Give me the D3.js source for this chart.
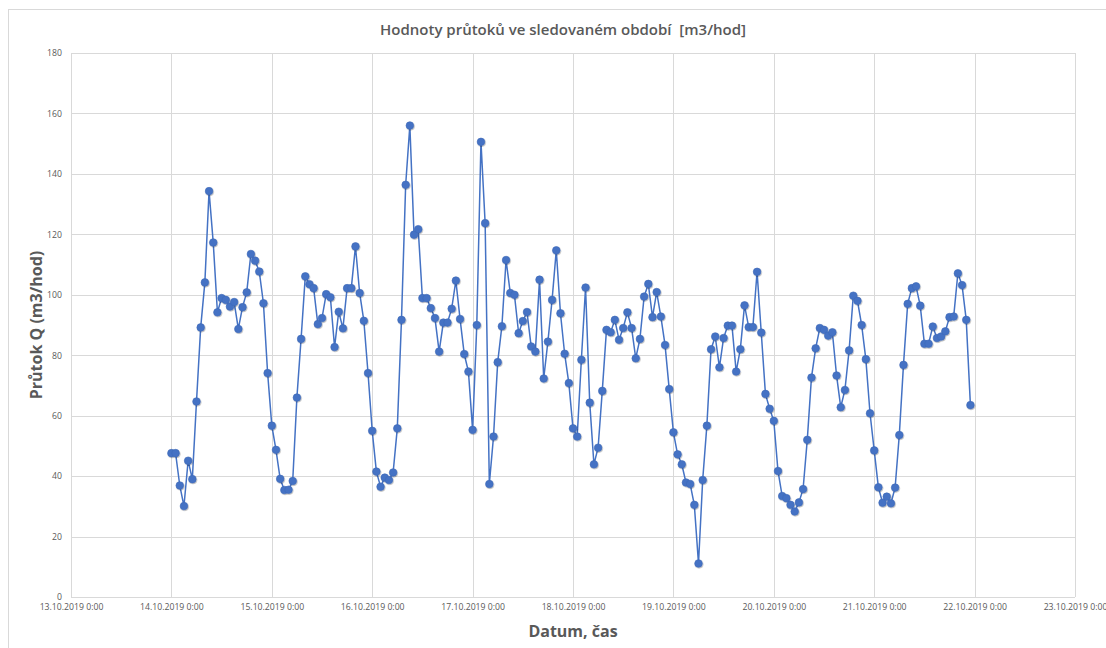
<!DOCTYPE html>
<html>
<head>
<meta charset="utf-8">
<script src="https://cdn.jsdelivr.net/npm/d3@7"></script>
<style>
  html, body { margin: 0; padding: 0; background: #ffffff; }
  svg { display: block; }
  text { font-family: "Open Sans", "Liberation Sans", sans-serif; fill: #595959; }
</style>
</head>
<body>
<svg id="chart" width="1106" height="648"></svg>
<script>
// Hourly flow readings, starting 14.10.2019 0:00 (m3/hod)
const seriesStart = "2019-10-14T00:00";
const flowValues = [
  47.6, 47.6, 36.9, 30.1, 45.1, 39.0, 64.7, 89.2, 104.1, 134.3, 117.3, 94.2,
  98.9, 98.3, 96.1, 97.6, 88.7, 95.9, 100.8, 113.5, 111.3, 107.7, 97.2, 74.1,
  56.7, 48.7, 39.1, 35.4, 35.5, 38.4, 66.0, 85.4, 106.1, 103.5, 102.2, 90.3,
  92.3, 100.2, 99.2, 82.7, 94.4, 88.9, 102.2, 102.2, 116.0, 100.6, 91.4, 74.1,
  55.0, 41.5, 36.5, 39.5, 38.7, 41.2, 55.8, 91.7, 136.4, 156.0, 119.9, 121.7,
  98.9, 98.9, 95.6, 92.3, 81.2, 90.8, 90.8, 95.4, 104.7, 92.0, 80.4, 74.6,
  55.3, 90.0, 150.6, 123.7, 37.4, 53.1, 77.7, 89.6, 111.5, 100.6, 100.0, 87.3,
  91.3, 94.3, 82.9, 81.2, 105.0, 72.3, 84.5, 98.3, 114.7, 93.9, 80.5, 70.8,
  55.8, 53.1, 78.5, 102.4, 64.3, 43.9, 49.4, 68.2, 88.4, 87.6, 91.7, 85.1,
  89.0, 94.2, 89.0, 79.0, 85.4, 99.4, 103.6, 92.6, 100.9, 92.8, 83.4, 68.8,
  54.5, 47.2, 43.9, 37.9, 37.4, 30.5, 11.1, 38.7, 56.7, 82.0, 86.2, 76.0,
  85.7, 89.8, 89.8, 74.6, 82.0, 96.5, 89.3, 89.3, 107.6, 87.5, 67.2, 62.3,
  58.3, 41.7, 33.4, 32.7, 30.5, 28.3, 31.3, 35.7, 52.0, 72.6, 82.3, 89.0,
  88.4, 86.5, 87.6, 73.3, 62.8, 68.5, 81.6, 99.7, 98.0, 90.0, 78.7, 60.8,
  48.5, 36.3, 31.2, 33.2, 31.0, 36.2, 53.6, 76.8, 97.0, 102.2, 102.8, 96.4,
  83.8, 83.8, 89.5, 85.7, 86.2, 87.9, 92.6, 92.8, 107.1, 103.2, 91.7, 63.5
];

// Axis settings
const xDomain = ["2019-10-13T00:00", "2019-10-23T00:00"];
const yTicks = [0, 20, 40, 60, 80, 100, 120, 140, 160, 180];

const titleText = "Hodnoty průtoků ve sledovaném období  [m3/hod]";
const yLabelText = "Průtok Q (m3/hod)";
const xLabelText = "Datum, čas";

const parse = d3.timeParse("%Y-%m-%dT%H:%M");
const start = parse(seriesStart);
const data = flowValues.map((v, i) => ({ t: d3.timeHour.offset(start, i), v }));

const svg = d3.select("#chart");
const m = { left: 71, right: 1075, top: 53, bottom: 597 };

// Chart area frame
svg.append("rect")
  .attr("x", 8.5).attr("y", 9.5)
  .attr("width", 1110).attr("height", 660)
  .attr("fill", "#ffffff")
  .attr("stroke", "#d9d9d9").attr("stroke-width", 1);

const x = d3.scaleTime().domain(xDomain.map(parse)).range([m.left, m.right]);
const y = d3.scaleLinear().domain([0, 180]).range([m.bottom, m.top]);

// Gridlines
const dayTicks = x.ticks(d3.timeDay.every(1));
svg.append("g").selectAll("line").data(yTicks).join("line")
  .attr("x1", m.left).attr("x2", m.right)
  .attr("y1", d => Math.round(y(d)) + 0.5).attr("y2", d => Math.round(y(d)) + 0.5)
  .attr("stroke", "#d9d9d9").attr("stroke-width", 1);
svg.append("g").selectAll("line").data(dayTicks).join("line")
  .attr("x1", d => Math.round(x(d)) + 0.5).attr("x2", d => Math.round(x(d)) + 0.5)
  .attr("y1", m.top).attr("y2", m.bottom)
  .attr("stroke", "#d9d9d9").attr("stroke-width", 1);

// Axes (labels only; lines come from the grid)
const fmt = d3.timeFormat("%-d.%m.%Y %-H:%M");
const xAxis = svg.append("g")
  .attr("transform", `translate(0,${m.bottom})`)
  .call(d3.axisBottom(x).tickValues(dayTicks).tickFormat(fmt).tickSize(0).tickPadding(7));
const yAxis = svg.append("g")
  .attr("transform", `translate(${m.left},0)`)
  .call(d3.axisLeft(y).tickValues(yTicks).tickSize(0).tickPadding(9));
[xAxis, yAxis].forEach(g => {
  g.select(".domain").remove();
  g.selectAll("text")
    .attr("fill", "#595959")
    .style("font-family", "'Open Sans', sans-serif")
    .style("font-size", "8.7px");
});

// Series line and markers
const line = d3.line().x(d => x(d.t)).y(d => y(d.v));
svg.append("path").datum(data)
  .attr("d", line)
  .attr("fill", "none")
  .attr("stroke", "#4472c4")
  .attr("stroke-width", 1.5);

const defs = svg.append("defs");
const f = defs.append("filter").attr("id", "shadow")
  .attr("x", "-50%").attr("y", "-50%").attr("width", "200%").attr("height", "200%");
f.append("feDropShadow").attr("dx", 0.6).attr("dy", 0.8).attr("stdDeviation", 0.6)
  .attr("flood-color", "#000").attr("flood-opacity", 0.35);

svg.append("g").attr("filter", "url(#shadow)")
  .selectAll("circle").data(data).join("circle")
  .attr("cx", d => x(d.t)).attr("cy", d => y(d.v))
  .attr("r", 3.8)
  .attr("fill", "#4472c4")
  .attr("stroke", "#3f69b8").attr("stroke-width", 0.6);

// Titles
svg.append("text")
  .attr("x", (m.left + m.right) / 2 - 10).attr("y", 35)
  .attr("text-anchor", "middle")
  .style("white-space", "pre")
  .style("font-size", "15px").style("font-weight", "600")
  .text(titleText);

svg.append("text")
  .attr("transform", `translate(42,${(m.top + m.bottom) / 2}) rotate(-90)`)
  .attr("text-anchor", "middle")
  .style("font-size", "16px").style("font-weight", "700")
  .text(yLabelText);

svg.append("text")
  .attr("x", (m.left + m.right) / 2).attr("y", 637)
  .attr("text-anchor", "middle")
  .style("font-size", "16px").style("font-weight", "700")
  .text(xLabelText);
</script>
</body>
</html>
